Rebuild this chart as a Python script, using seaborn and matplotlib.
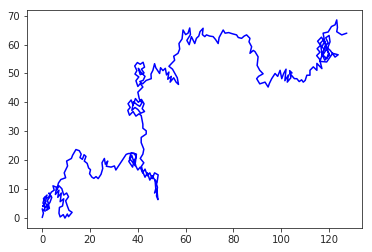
import matplotlib
matplotlib.use("Agg")
import matplotlib.pyplot as plt
import seaborn as sns
import numpy as np
import pandas as pd

# Random-walk path, split into segments (in walk order)
seg1_x = [0, 0.5, 0, 1.2, 0.8, 0.2, 1.5, 0.5, 2, 1.2, 2.5, 1.8, 3, 2.2, 3.5, 2.8, 4, 3.2, 1.5, 0.3, 1, 2.5, 3.8, 5, 4.5, 6, 5.5, 7, 6.5, 8, 7.5, 9, 8.5, 7.2, 7, 7.5, 8.8, 9.5, 10.5, 11, 12.5, 11.2, 10.5, 9.8, 11, 10.2, 9, 8.2, 7, 6, 6.8, 7.8, 9.8, 9.2, 10.6, 10.2, 12.2, 12.7, 14.1, 15.5]
seg1_y = [0, 1.5, 3, 2.2, 4.5, 3.8, 5.5, 6.5, 7.8, 5, 4, 2.5, 3.2, 6, 7.5, 8.5, 7, 5.2, 3.5, 5, 7, 6.8, 8.8, 9.5, 11, 10.5, 8, 9.5, 7, 8.5, 5.5, 6.5, 4, 3.5, 1.5, 0.2, 1, -0.2, 1.2, 0.3, 1.8, 2.5, 4, 5.8, 7.2, 8.5, 7.8, 10, 11, 9.5, 12, 13.2, 13.8, 15.5, 17.9, 19.6, 20.5, 21.6, 23.6, 23.2]

seg2_x = [16.3, 15.8, 16.8, 17.5, 18.3, 17.6, 18.8, 19.4, 20.2, 19.8, 20.8, 21.6, 22.5, 23.4, 24.3, 24.6, 25.3, 25, 26, 26.4, 27.4, 26.8, 28.8, 30.2, 30.8, 32.3, 33.7, 35.1, 36, 38.5, 39.3, 38, 36.5, 37.2, 39.4, 38.8, 37.5, 36.2, 37.8, 38.5, 39.2]
seg2_y = [22, 20.8, 20.2, 21.8, 21.2, 19.6, 18.8, 17.2, 16.6, 15.2, 14, 13.6, 14.2, 13.5, 14.6, 15, 17, 19, 20.5, 18.5, 19.6, 17.8, 17.5, 17.9, 16.5, 18.4, 20.2, 21.9, 22.2, 22.3, 21, 19, 20.5, 22.4, 22, 18, 21.5, 19.5, 17.5, 20, 17.8]

seg3_x = [40, 41, 42, 43, 44, 45, 46, 47, 48.5, 48, 47.2, 47.5, 47, 48, 48.4, 47.8, 48.2, 47.5, 46, 45, 44, 43, 42, 41.5, 42.5, 41, 42.1, 42.5, 41.4, 41.4, 43.5, 43.5, 42.1, 42.1, 41.4]
seg3_y = [16.5, 17.5, 15.5, 16.8, 14.5, 15.5, 13.5, 15.5, 14.8, 12, 13, 10, 8.5, 9.5, 6.2, 7.5, 10.5, 12.5, 14.5, 13, 15.5, 14, 16, 17.8, 19, 20.5, 22, 23.7, 26, 27.8, 29, 30.1, 31, 32.4, 35.4]

seg4_x = [40.5, 39.2, 38, 36.5, 35.8, 36.8, 35.9, 37.2, 38, 39, 40.2, 41.5, 42.6, 41.8, 42.8, 41.2, 40, 38.8, 37.5, 38.2, 39.6, 40.8, 41.7, 40.6, 40, 42.1, 41, 40, 39.2, 40.4, 38.8, 39.6, 38.7, 39.8, 41, 42.2, 42.8, 41.5, 42.6, 41, 40.2, 41.3, 43, 42.2, 40.8, 42, 43.5, 45.6, 45.5, 46.3, 47, 47.5, 49.1]
seg4_y = [36, 35.2, 36.8, 35.5, 37.2, 38.2, 39.5, 40.8, 39, 41.3, 40, 41, 39.5, 37.8, 36.8, 36.2, 37.5, 38.2, 37.2, 40.2, 39.2, 38.6, 39.8, 41.2, 43.5, 45.3, 46.5, 45.5, 47.5, 48.8, 49.8, 51, 52.6, 53.8, 53.2, 53.9, 52.2, 51.5, 50.2, 49.6, 51.8, 50.4, 49, 47.6, 47.2, 46.4, 47.6, 48.2, 49.8, 51.1, 53.4, 52, 50]

seg5_x = [49.5, 50.5, 51.5, 52, 53, 52.5, 54, 53.5, 55, 56, 57, 56.5, 55.5, 54.5, 53, 54, 55.4, 55, 56.8, 57.5, 57.2, 58.5, 58.9, 60, 61, 61.7, 62, 60.5, 61.5, 62.4, 63.8, 64.5, 65.5, 66, 67.3, 67, 68, 68.7, 70, 71.5, 72.5, 73.6, 74, 75.7, 76.5, 78, 79.5, 81.3, 82, 83.4, 84.5, 85.5, 86.9, 86.5, 87.6, 86.9, 88.3, 89, 90.3, 89.9]
seg5_y = [52, 51, 51.8, 49.5, 50.5, 48, 49, 47, 48.5, 47, 46.2, 48.5, 50, 51.5, 52.5, 53.4, 54.6, 56, 57, 58.5, 60.4, 62, 65.1, 63.5, 64, 65.8, 63.5, 61.5, 60, 62.8, 60.4, 62.2, 63, 64.5, 65.7, 63.5, 62.8, 63.4, 63, 62.8, 61.8, 60.4, 62.5, 65.1, 64, 64.2, 63.8, 63.4, 62.5, 62.2, 63, 63.4, 62.2, 61, 59.3, 57, 58, 57.6, 55.8, 52.8]

seg6_x = [91, 92.4, 90.5, 89.7, 91, 93.2, 94.5, 95, 96, 97.4, 98.5, 99.5, 100.2, 101, 102, 101.5, 103, 102.5, 104, 103.5, 104.5, 103.6, 105.5, 106.5, 107.5, 108.5, 109.2, 110, 110.7, 112, 112, 113.4, 114.9, 114.9, 117]
seg6_y = [51.1, 49.9, 49, 48.2, 46.4, 47, 45.3, 46.5, 48.2, 50, 49, 51.1, 48.2, 50, 51.5, 47.5, 49.5, 47, 48.5, 51, 50.2, 50, 48.2, 48.2, 47.2, 47.8, 47, 47.6, 49.4, 49.4, 51.1, 52.3, 51.1, 53.5, 51.7]

seg7_x = [116, 114.8, 116.2, 115, 116.4, 115.2, 116.8, 118, 117, 118.6, 117.4, 119, 119.8, 118.4, 119.6, 118.6, 120, 120.4, 119.2, 120.2, 118.2, 117, 116.4, 117.8, 118.8, 117.6, 116.2, 119, 120.4, 121.5, 123.8, 122.5, 120.5, 118.5, 117.5, 119.6, 121, 122.5, 123.2, 123.5, 123.2, 125.3, 127.4]
seg7_y = [55, 56.2, 57.4, 58.6, 59.8, 61.2, 62.6, 61, 59.2, 58, 56.4, 55.2, 57, 59.4, 60.6, 62.4, 63.2, 61, 58.4, 56.4, 54.6, 56.8, 60.6, 61.8, 60, 57.8, 54.2, 54, 55.7, 57, 56.5, 55.7, 58, 59.5, 64, 64.4, 66.3, 66.9, 68.6, 66, 64.5, 63.4, 64]

xs = seg1_x + seg2_x + seg3_x + seg4_x + seg5_x + seg6_x + seg7_x
ys = seg1_y + seg2_y + seg3_y + seg4_y + seg5_y + seg6_y + seg7_y
df = pd.DataFrame({"x": xs, "y": ys, "step": np.arange(len(xs))})

sns.set_style("ticks")
plt.rcParams["font.family"] = ["DejaVu Sans"]

fig = plt.figure(figsize=(372 / 72, 252 / 72), dpi=72)
ax = fig.add_axes([27 / 372, 24 / 252, 335 / 372, 218 / 252])
sns.lineplot(data=df, x="x", y="y", sort=False, estimator=None, color="blue",
             linewidth=1.5, ax=ax)
ax.set_xlabel("")
ax.set_ylabel("")
ax.set_xticks([0, 20, 40, 60, 80, 100, 120])
ax.set_yticks([0, 10, 20, 30, 40, 50, 60, 70])
ax.tick_params(labelsize=10)
for s in ax.spines.values():
    s.set_visible(True)
fig.savefig("out.png", dpi=72)
